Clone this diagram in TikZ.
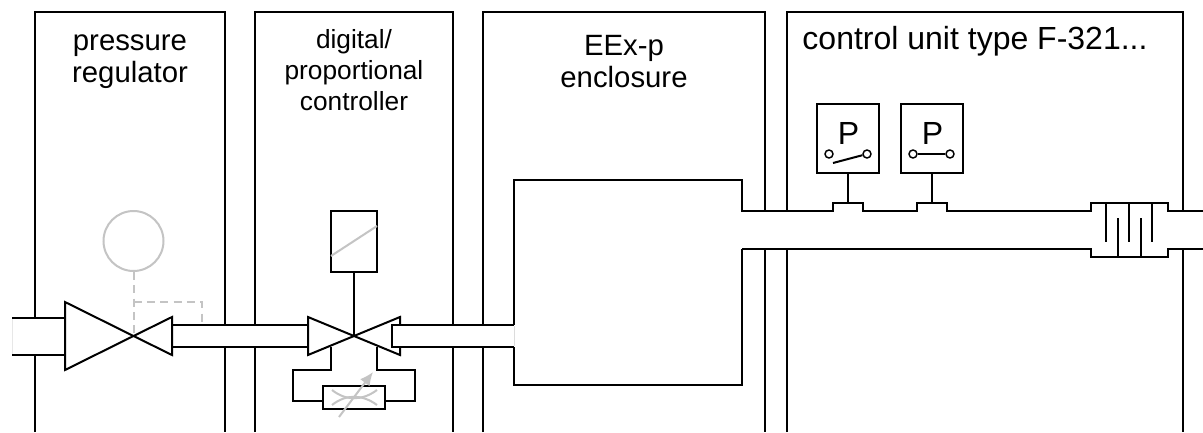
\documentclass[tikz,border=0pt]{standalone}
\usepackage{fontspec}
\setmainfont{Liberation Sans}
\usepackage{xcolor}
\usetikzlibrary{arrows.meta}
\definecolor{faded}{HTML}{C4C4C4}
\tikzset{
  wall/.style={black, line width=1.5pt},
  pipefill/.style={fill=white, draw=none},
  hint/.style={faded, line width=1.5pt},
  title/.style={align=center, font=\fontsize{22}{24}\selectfont, inner sep=0pt},
  smalltitle/.style={align=center, font=\fontsize{19.7}{23}\selectfont, inner sep=0pt},
  gaugebox/.style={draw=black, line width=1.5pt, minimum width=46.5pt, minimum height=52pt, inner sep=0pt},
  contact/.style={circle, draw=black, fill=white, line width=1.1pt, minimum size=6pt, inner sep=0pt},
}
\begin{document}
\begin{tikzpicture}[x=0.75pt, y=-0.75pt]
  \useasboundingbox (0,0) rectangle (1203,432);
  \fill[white] (0,0) rectangle (1203,432);
  % panels
  \draw[wall] (35,432) -- (35,12) -- (225,12) -- (225,432);
  \draw[wall] (255,432) -- (255,12) -- (453,12) -- (453,432);
  \draw[wall] (483,432) -- (483,12) -- (765,12) -- (765,432);
  \draw[wall] (787,432) -- (787,12) -- (1183,12) -- (1183,432);
  \node[title] (regulatortitle) at (130,62) {pressure\\regulator};
  \node[smalltitle] (controllertitle) at (354,70) {digital/\\proportional\\controller};
  \node[title] (enclosuretitle) at (624,62) {EEx-p\\enclosure};
  \node[title, font=\fontsize{24}{24}\selectfont] (unittitle) at (975,41) {control unit type F-321...};
  % pipes
  \fill[pipefill] (12,318) rectangle (65,355);
  \draw[faded!40, line width=0.6pt] (12,318) -- (12,355);
  \draw[wall] (12,317.5) -- (65,317.5) (12,355) -- (65,355);
  \fill[pipefill] (172,325) rectangle (308,347);
  \draw[wall] (172,325) -- (308,325) (172,347) -- (308,347);
  \fill[pipefill] (392,325) rectangle (514,347);
  % regulator hints
  \node[circle, draw=faded, line width=1.5pt, minimum size=45pt, inner sep=0pt] (dial) at (133.5,241) {};
  \coordinate (regvalve) at (133.5,336);
  \coordinate (sense) at (133.5,302);
  \coordinate (sensepipe) at (202,325);
  \draw[hint, dashed, dash pattern=on 6pt off 4pt] (dial) -- (regvalve);
  \draw[hint, dashed, dash pattern=on 6pt off 4pt] (sense) -| (sensepipe);
  \draw[wall, fill=white, line join=miter] (regvalve) -- (65,302) -- (65,370) -- cycle;
  \draw[wall, fill=white, line join=miter] (regvalve) -- (172,317) -- (172,355) -- cycle;
  % proportional valve
  \node[draw=black, line width=1.5pt, minimum width=34.5pt, minimum height=45.5pt, inner sep=0pt] (solenoid) at (354,241.5) {};
  \draw[hint] (331,256) -- (377,226);
  \coordinate (propvalve) at (354,336);
  \draw[wall] (solenoid) -- (propvalve);
  \node[draw=black, fill=white, line width=1.5pt, minimum width=46.5pt, minimum height=17pt, inner sep=0pt] (throttle) at (354,397.5) {};
  \draw[wall] (331,347) |- (293,370) |- (throttle.west |- 0,401);
  \draw[wall] (377,347) |- (415,370) |- (throttle.east |- 0,401);
  \draw[hint] (332,390) .. controls (346,401) and (362,401) .. (377,390);
  \draw[hint] (332,405) .. controls (346,394) and (362,394) .. (377,405);
  \coordinate (throttletail) at (339,417);
  \coordinate (throttletip) at (373,372);
  \draw[hint, -{Latex[length=10pt, width=9pt]}] (throttletail) -- (throttletip);
  \draw[wall, fill=white, line join=miter] (propvalve) -- (308,317) -- (308,355) -- cycle;
  \draw[wall, fill=white, line join=miter] (propvalve) -- (400,317) -- (400,355) -- cycle;
  \draw[wall, fill=white] (514,325) -- (392,325) -- (392,347) -- (514,347);
  % enclosure and outlet
  \fill[white] (742,211) rectangle (1203,249);
  \draw[wall, fill=white] (514,325) -- (514,180) -- (742,180) -- (742,385) -- (514,385) -- (514,347);
  \draw[faded!60, line width=0.6pt] (514,326) -- (514,346);
  \fill[white] (741,211.5) rectangle (743,248.5);
  \draw[wall] (742,211) -- (833,211) -- (833,203) -- (863,203) -- (863,211) -- (917,211) -- (917,203) -- (947,203) -- (947,211) -- (1091,211) -- (1091,203) -- (1168,203) -- (1168,211) -- (1203,211);
  \draw[wall] (742,249) -- (1091,249) -- (1091,257) -- (1168,257) -- (1168,249) -- (1203,249);
  % pressure switches
  \node[gaugebox] (switcha) at (848,138.5) {};
  \node[gaugebox] (switchb) at (932,138.5) {};
  \node[font=\fontsize{24}{24}\selectfont, inner sep=0pt] (labela) at (848.5,133) {P};
  \node[font=\fontsize{24}{24}\selectfont, inner sep=0pt] (labelb) at (932.5,133) {P};
  \draw[wall] (switcha) -- (848,203);
  \draw[wall] (switchb) -- (932,203);
  \node[contact] (contactal) at (829,154) {};
  \node[contact] (contactar) at (867,154) {};
  \node[contact] (contactbl) at (913,154) {};
  \node[contact] (contactbr) at (950,154) {};
  \coordinate (bladeend) at (833,163);
  \draw[wall] (bladeend) -- (contactar);
  \draw[wall] (contactbl) -- (contactbr);
  % filter fins
  \foreach \finx in {1106,1129,1152}
    \draw[wall] (\finx,203) -- (\finx,242);
  \foreach \finx in {1118,1141}
    \draw[wall] (\finx,257) -- (\finx,218);
\end{tikzpicture}
\end{document}
